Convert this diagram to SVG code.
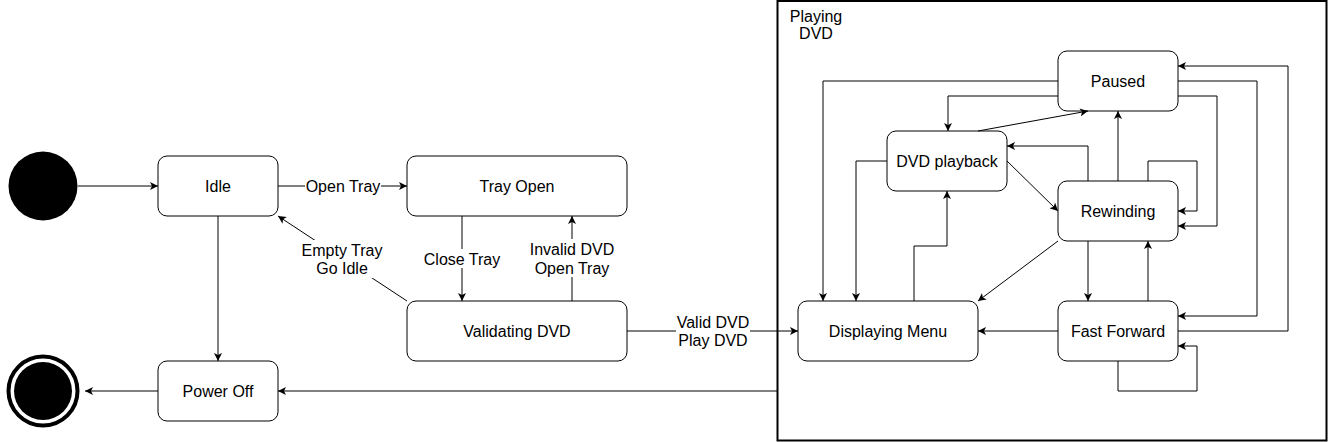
<svg xmlns="http://www.w3.org/2000/svg" width="1329" height="442" viewBox="0 0 1329 442">
<style>
.node rect{fill:#fff;stroke:#000;stroke-width:1}
text{font-family:"Liberation Sans",Arial,Helvetica,sans-serif;font-size:16px;fill:#000;text-anchor:middle}
.conn path{fill:none;stroke:#000;stroke-width:1;marker-end:url(#arr)}
.conn path.plain{marker-end:none}
.lbl rect{fill:#fff;stroke:none}
</style>
<defs>
<marker id="arr" viewBox="0 0 8 8" markerUnits="userSpaceOnUse" markerWidth="8" markerHeight="8" refX="8" refY="4" orient="auto">
<path d="M0,0 L8,4 L0,8 L2,4 Z" fill="#000" stroke="none"/>
</marker>
</defs>
<rect width="1329" height="442" fill="#fff"/>

<g id="playing-dvd">
<rect x="777.5" y="1" width="549" height="439.5" fill="#fff" stroke="#000" stroke-width="2"/>
<text x="816" y="21.5">Playing</text>
<text x="816" y="39">DVD</text>
</g>

<g id="initial"><circle cx="43" cy="186" r="34.5" fill="#000"/></g>
<g id="final">
<circle cx="43" cy="391" r="34.5" fill="#fff" stroke="#000" stroke-width="4"/>
<circle cx="43" cy="391" r="29" fill="#000"/>
</g>

<g id="idle" class="node"><rect x="158" y="156" width="120" height="60" rx="9"/><text x="218" y="192">Idle</text></g>
<g id="tray-open" class="node"><rect x="407" y="156" width="220" height="60" rx="9"/><text x="517" y="192">Tray Open</text></g>
<g id="validating" class="node"><rect x="407" y="301" width="220" height="60" rx="9"/><text x="517" y="337">Validating DVD</text></g>
<g id="power-off" class="node"><rect x="158" y="361" width="120" height="60" rx="9"/><text x="218" y="397">Power Off</text></g>
<g id="paused" class="node"><rect x="1058" y="51" width="120" height="60" rx="9"/><text x="1118" y="87">Paused</text></g>
<g id="dvd-playback" class="node"><rect x="887" y="131" width="120" height="60" rx="9"/><text x="947" y="167">DVD playback</text></g>
<g id="rewinding" class="node"><rect x="1058" y="181" width="120" height="60" rx="9"/><text x="1118" y="217">Rewinding</text></g>
<g id="displaying-menu" class="node"><rect x="798" y="301" width="180" height="60" rx="9"/><text x="888" y="337">Displaying Menu</text></g>
<g id="fast-forward" class="node"><rect x="1058" y="301" width="120" height="60" rx="9"/><text x="1118" y="337">Fast Forward</text></g>

<g id="connectors" class="conn">
<path d="M78,186 H158"/>
<path d="M278,186 H407"/>
<path d="M462,216 V301"/>
<path d="M572,301 V216"/>
<path d="M407,301 L278,216"/>
<path d="M218,216 V361"/>
<path d="M627,331 H798"/>
<path d="M777,391 H278"/>
<path d="M158,391 H85"/>

<path d="M1058,81 H823 V301"/>
<path d="M1058,96 H948 V131"/>
<path d="M978,131 L1088,111"/>
<path d="M1118,181 V111"/>
<path d="M1088,181 V146 H1007"/>
<path d="M1007,161 L1058,211"/>
<path d="M887,161 H856 V301"/>
<path d="M914,301 V246 H947 V191"/>
<path d="M1058,241 L978,301"/>
<path d="M1088,241 V301"/>
<path d="M1148,301 V241"/>
<path d="M1058,331 H978"/>
<path d="M1118,361 V391 H1197 V346 H1178"/>
<path d="M1148,181 V161 H1197 V211 H1178"/>
<path d="M1178,96 H1217 V226 H1178"/>
<path d="M1178,81 H1257 V316 H1178"/>
<path d="M1178,331 H1288 V66 H1178"/>

<g class="lbl">
<rect x="305" y="177" width="76" height="18"/>
<text x="343" y="192">Open Tray</text>
<rect x="422" y="249" width="80" height="19"/>
<text x="462" y="264.5">Close Tray</text>
<rect x="529" y="239" width="86" height="38"/>
<text x="572" y="255">Invalid DVD</text>
<text x="572" y="273.5">Open Tray</text>
<rect x="300" y="240" width="84" height="38"/>
<text x="342" y="256">Empty Tray</text>
<text x="342" y="274">Go Idle</text>
<rect x="676" y="312" width="74" height="38"/>
<text x="713" y="327.5">Valid DVD</text>
<text x="713" y="346">Play DVD</text>
</g>
</g>
</svg>
